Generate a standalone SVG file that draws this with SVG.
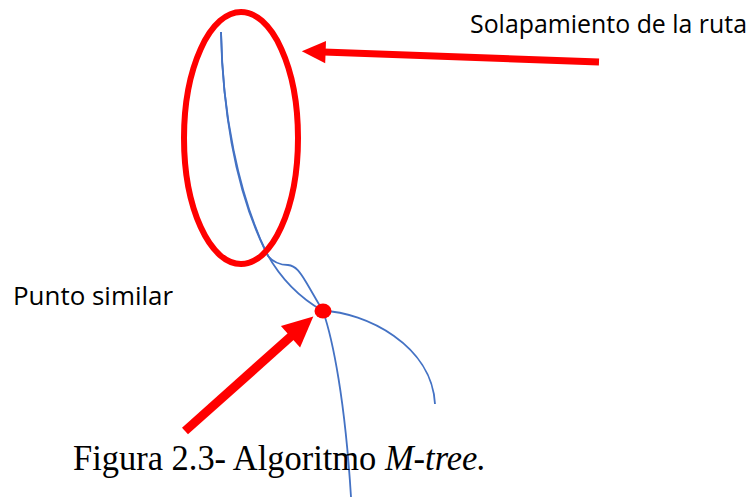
<svg xmlns="http://www.w3.org/2000/svg" width="755" height="499" viewBox="0 0 755 499">
  <style>
    .route { fill: none; stroke: #4472C4; stroke-width: 1.8; stroke-linecap: butt; }
    .mark { fill: none; stroke: #FF0000; }
    .label { font-family: "Open Sans", "Liberation Sans", sans-serif; font-size: 25px; fill: #000; }
    .caption { font-family: "Liberation Serif", "Times New Roman", serif; font-size: 35px; fill: #000; }
  </style>
  <defs>
    <marker id="head" markerUnits="strokeWidth" markerWidth="3.4" markerHeight="3.2" refX="0.3" refY="1.6" orient="auto" overflow="visible">
      <path d="M0,0 L3.4,1.6 L0,3.2 z" fill="#FF0000"/>
    </marker>
  </defs>

  <!-- trajectories -->
  <g id="routes">
    <path class="route" d="M221,32 C222,110 238,195 268,256 C274,263 281,265 288,265 C296,266 300,272 306,282 C312,292 318,303 323,311 C333,340 345,400 351,497"/>
    <path class="route" d="M221,32 C223,112 236,192 266,252 C280,278 300,298 323,311 C365,312 432,345 435,404"/>
  </g>

  <!-- overlap region -->
  <g id="overlap">
    <ellipse cx="241" cy="138" rx="57" ry="126" class="mark" stroke-width="6"/>
  </g>

  <!-- similar point -->
  <g id="similar-point">
    <ellipse cx="323" cy="311" rx="8.5" ry="7.5" fill="#FF0000"/>
  </g>

  <!-- pointers -->
  <g id="connectors">
    <line x1="599" y1="62" x2="323.5" y2="52" class="mark" stroke-width="7" marker-end="url(#head)"/>
    <line x1="185" y1="431" x2="292.5" y2="335" class="mark" stroke-width="9" marker-end="url(#head)"/>
  </g>

  <g id="label-overlap">
    <text class="label" x="470" y="33" textLength="277" lengthAdjust="spacingAndGlyphs">Solapamiento de la ruta</text>
  </g>
  <g id="label-point">
    <text class="label" x="13" y="305" textLength="160" lengthAdjust="spacingAndGlyphs">Punto similar</text>
  </g>
  <g id="caption">
    <text class="caption" x="73" y="470" textLength="413" lengthAdjust="spacingAndGlyphs">Figura 2.3- Algoritmo <tspan font-style="italic">M-tree.</tspan></text>
  </g>
</svg>
